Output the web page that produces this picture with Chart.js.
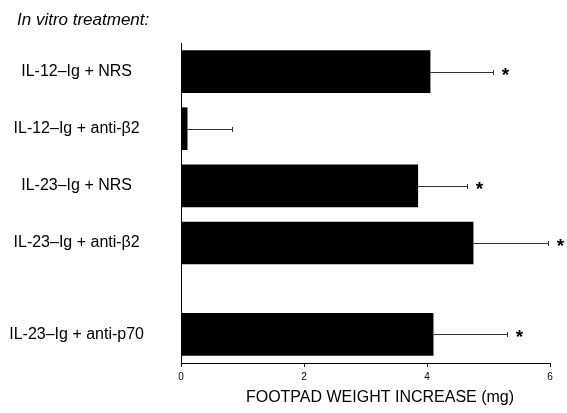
<!DOCTYPE html>
<html>
<head>
<meta charset="utf-8">
<script src="https://cdn.jsdelivr.net/npm/chart.js@4"></script>
<style>
  html, body { margin: 0; padding: 0; background: #fff; }
  #wrap { width: 567px; height: 413px; }
</style>
</head>
<body>
<div id="wrap"><canvas id="chart"></canvas></div>
<script>
// treatment groups, top to bottom
const groups = ['IL-12\u2013Ig + NRS', 'IL-12\u2013Ig + anti-\u03b22', 'IL-23\u2013Ig + NRS', 'IL-23\u2013Ig + anti-\u03b22', 'IL-23\u2013Ig + anti-p70'];
// row slots on the vertical axis (last group sits lower)
const rows = [0, 1, 2, 3, 4.6];
// mean footpad weight increase (mg)
const means = [4.05, 0.1, 3.85, 4.75, 4.1];
// upper error (mg)
const errs = [1.02, 0.73, 0.8, 1.22, 1.2];
// significance stars
const stars = [true, false, true, true, true];
const xTicks = [0, 2, 4, 6];
const xTitle = 'FOOTPAD WEIGHT INCREASE (mg)';
const heading = 'In vitro treatment:';

const FONT = 'Liberation Sans, Arial, sans-serif';

// error bars, stars, heading and axis title
const extras = {
    id: 'extras',
    afterDatasetsDraw(chart) {
        const ctx = chart.ctx;
        const xs = chart.scales.x, ys = chart.scales.y;
        ctx.save();
        ctx.strokeStyle = '#333';
        ctx.lineWidth = 1;
        means.forEach((m, i) => {
            const y = Math.round(ys.getPixelForValue(rows[i])) + 0.5;
            const x0 = xs.getPixelForValue(m);
            const x1 = Math.round(xs.getPixelForValue(m + errs[i])) + 0.5;
            ctx.beginPath();
            ctx.moveTo(x0, y);
            ctx.lineTo(x1, y);
            ctx.moveTo(x1, y - 2.5);
            ctx.lineTo(x1, y + 2.5);
            ctx.stroke();
            if (stars[i]) {
                ctx.fillStyle = '#000';
                ctx.font = 'bold 19px ' + FONT;
                ctx.textAlign = 'center';
                ctx.textBaseline = 'middle';
                ctx.fillText('*', x1 + 12, y + 3);
            }
        });
        ctx.fillStyle = '#000';
        ctx.textBaseline = 'middle';
        ctx.font = '16px ' + FONT;
        ctx.textAlign = 'center';
        ctx.fillText(xTitle, 380, 398);
        ctx.font = 'italic 17px ' + FONT;
        ctx.textAlign = 'left';
        ctx.fillText(heading, 17, 20);
        ctx.restore();
    }
};

let footpadChart;
function drawChart() {
    if (typeof footpadChart != 'undefined') {
        footpadChart.destroy();
    }
    let myChart = document.getElementById('chart').getContext('2d');
    footpadChart = new Chart(myChart, {
        type: 'bar',
        data: {
            datasets: [{
                data: means.map((m, i) => ({x: m, y: rows[i]})),
                backgroundColor: '#000',
                borderWidth: 0,
                barThickness: 42
            }]
        },
        options: {
            indexAxis: 'y',
            responsive: true,
            maintainAspectRatio: false,
            animation: false,
            events: [],
            layout: { padding: { left: 0, right: 17, top: 43, bottom: 0 } },
            plugins: {
                legend: { display: false },
                tooltip: { enabled: false },
                title: { display: false }
            },
            scales: {
                x: {
                    type: 'linear',
                    min: 0,
                    max: 6,
                    afterBuildTicks: axis => { axis.ticks = xTicks.map(v => ({value: v})); },
                    afterFit: axis => { axis.height = 50; },
                    ticks: { color: '#000', font: { family: FONT, size: 10 }, padding: 4 },
                    grid: { drawOnChartArea: false, drawTicks: true, tickLength: 4, color: '#000' },
                    border: { display: true, color: '#000', width: 1 }
                },
                y: {
                    type: 'linear',
                    reverse: true,
                    offset: false,
                    min: -0.5,
                    max: 5.1,
                    afterBuildTicks: axis => { axis.ticks = rows.map(v => ({value: v})); },
                    afterFit: axis => { axis.width = 181; },
                    ticks: {
                        autoSkip: false,
                        color: '#000',
                        crossAlign: 'center',
                        padding: 29,
                        font: { family: FONT, size: 16 },
                        callback: v => groups[rows.indexOf(v)]
                    },
                    grid: { display: false, offset: false },
                    border: { display: true, color: '#000', width: 1 }
                }
            }
        },
        plugins: [extras]
    });
}
drawChart();
</script>
</body>
</html>
